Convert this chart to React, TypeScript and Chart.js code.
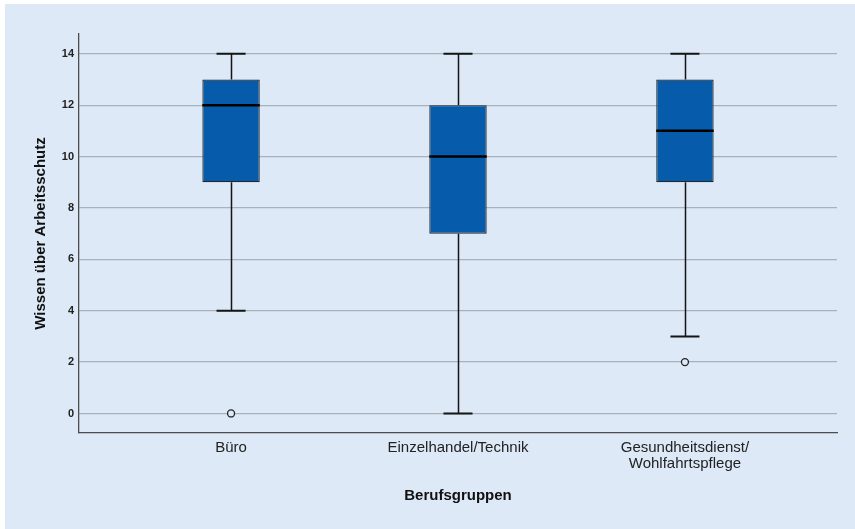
import React, { useEffect, useRef } from "react";
import { Chart, registerables } from "chart.js";

Chart.register(...registerables);

// ---- data ----
const categories: (string | string[])[] = [
  "Büro",
  "Einzelhandel/Technik",
  ["Gesundheitsdienst/", "Wohlfahrtspflege"],
];
const positions = [1, 2, 3];
const whiskerLow = [4, 0, 3];
const q1 = [9, 7, 9];
const median = [12, 10, 11];
const q3 = [13, 12, 13];
const whiskerHigh = [14, 14, 14];
const outlierCategory = [0, 2];
const outlierValue = [0, 2];
const yTicks = [0, 2, 4, 6, 8, 10, 12, 14];

const BG = "#dde9f6";
const BOX_FILL = "#065cab";
const FONT = "'Liberation Sans', Arial, sans-serif";
const BOX_HALF = 0.1265;
const CAP_HALF = 0.064;

const boxPlugin = {
  id: "boxWhiskers",
  afterDatasetsDraw(chart: any) {
    const { ctx } = chart;
    const x = chart.scales.x;
    const y = chart.scales.y;
    ctx.save();
    for (let i = 0; i < positions.length; i++) {
      const p = positions[i];
      const cx = Math.round(x.getPixelForValue(p)) + 0.5;
      const capL = x.getPixelForValue(p - CAP_HALF);
      const capR = x.getPixelForValue(p + CAP_HALF);
      const boxL = x.getPixelForValue(p - BOX_HALF);
      const boxR = x.getPixelForValue(p + BOX_HALF);
      const yHi = y.getPixelForValue(whiskerHigh[i]);
      const yQ3 = y.getPixelForValue(q3[i]);
      const yQ1 = y.getPixelForValue(q1[i]);
      const yLo = y.getPixelForValue(whiskerLow[i]);
      const yMed = y.getPixelForValue(median[i]);
      ctx.strokeStyle = "#151515";
      ctx.lineWidth = 1.5;
      ctx.beginPath();
      ctx.moveTo(cx, yQ3);
      ctx.lineTo(cx, yHi);
      ctx.moveTo(cx, yQ1);
      ctx.lineTo(cx, yLo);
      ctx.stroke();
      ctx.lineWidth = 2;
      ctx.beginPath();
      ctx.moveTo(capL, yHi);
      ctx.lineTo(capR, yHi);
      ctx.moveTo(capL, yLo);
      ctx.lineTo(capR, yLo);
      ctx.stroke();
      ctx.strokeStyle = "#000";
      ctx.lineWidth = 2.5;
      ctx.beginPath();
      ctx.moveTo(boxL, yMed);
      ctx.lineTo(boxR, yMed);
      ctx.stroke();
    }
    ctx.restore();
  },
};

export default function App() {
  const ref = useRef<HTMLCanvasElement | null>(null);

  useEffect(() => {
    if (!ref.current) return;
    const chart = new Chart(ref.current, {
      type: "bar",
      data: {
        datasets: [
          {
            type: "bar",
            data: positions.map((p, i) => ({ x: p, y: [q1[i], q3[i]] })) as any,
            backgroundColor: BOX_FILL,
            borderColor: "#262626",
            borderWidth: 1.2,
            borderSkipped: false,
            categoryPercentage: 1,
            barPercentage: BOX_HALF * 2,
          } as any,
          {
            type: "scatter",
            data: outlierCategory.map((c, i) => ({ x: positions[c], y: outlierValue[i] })),
            pointRadius: 3.5,
            pointBackgroundColor: BG,
            pointBorderColor: "#222222",
            pointBorderWidth: 1.3,
          } as any,
        ],
      },
      options: {
        animation: false,
        responsive: false,
        devicePixelRatio: 1,
        layout: { padding: { top: 30, right: 18, left: 0, bottom: 0 } },
        plugins: {
          legend: { display: false },
          tooltip: { enabled: false },
        },
        scales: {
          x: {
            type: "linear",
            min: 0.33,
            max: 3.67,
            offset: false,
            grid: { display: false, drawTicks: false },
            border: { display: true, color: "#4d4d4d", width: 1.3 },
            afterBuildTicks: (scale: any) => {
              scale.ticks = positions.map((v) => ({ value: v }));
            },
            afterFit: (scale: any) => {
              scale.height = 96;
            },
            ticks: {
              autoSkip: false,
              maxRotation: 0,
              padding: 7,
              color: "#222222",
              font: { family: FONT, size: 15, lineHeight: 1.05 },
              callback: (_v: any, i: number) => categories[i] as any,
            },
            title: {
              display: true,
              text: "Berufsgruppen",
              color: "#111111",
              font: { family: FONT, size: 15, weight: "bold" },
              padding: { top: 0, bottom: 24 },
            },
          },
          y: {
            type: "linear",
            min: -0.76,
            max: 14.77,
            grid: { color: "#a9b2bc", lineWidth: 1.2, drawTicks: false },
            border: { display: true, color: "#4d4d4d", width: 1.3 },
            afterBuildTicks: (scale: any) => {
              scale.ticks = yTicks.map((v) => ({ value: v }));
            },
            afterFit: (scale: any) => {
              scale.width = 74;
            },
            ticks: {
              padding: 5,
              color: "#222222",
              font: { family: FONT, size: 11, weight: "bold" },
              callback: (v: any) => String(v),
            },
            title: {
              display: true,
              text: "Wissen über Arbeitsschutz",
              color: "#111111",
              font: { family: FONT, size: 15, weight: "bold" },
              padding: { top: 27, bottom: 0 },
            },
          },
        },
      } as any,
      plugins: [boxPlugin],
    });
    return () => chart.destroy();
  }, []);

  return (
    <div
      style={{
        position: "absolute",
        left: 5,
        top: 4,
        width: 850,
        height: 525,
        background: BG,
      }}
    >
      <canvas ref={ref} width={850} height={525} style={{ display: "block" }} />
    </div>
  );
}
